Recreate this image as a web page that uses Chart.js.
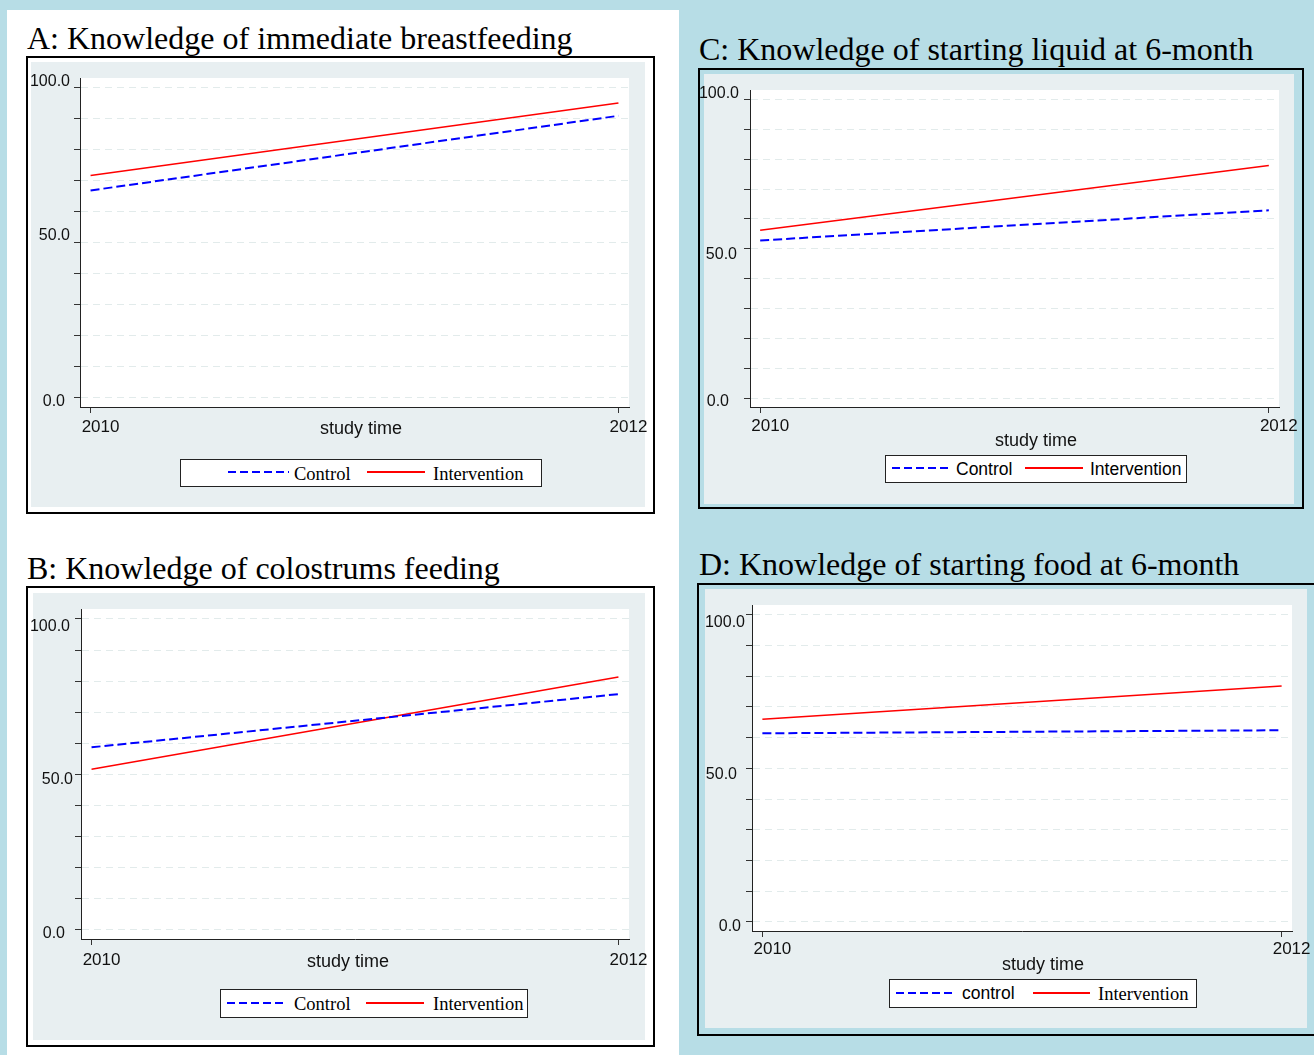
<!DOCTYPE html>
<html>
<head>
<meta charset="utf-8">
<script src="https://cdn.jsdelivr.net/npm/chart.js@4.4.0/dist/chart.umd.min.js"></script>
<style>
body{margin:0;width:1314px;height:1055px;background:#b7dde6;position:relative;overflow:hidden;font-family:"Liberation Sans",Arial,sans-serif}
#white{position:absolute;left:7px;top:10px;width:672px;height:1045px;background:#fff}
.title{position:absolute;font-family:"Liberation Serif","Times New Roman",serif;font-size:32px;line-height:32px;white-space:nowrap;color:#000}
.box{position:absolute;border:2px solid #000;box-sizing:border-box}
canvas{position:absolute}
.legend{position:absolute;background:#fff;border:1px solid #222;box-sizing:border-box}
.legend span{position:absolute;top:0;white-space:nowrap;color:#000}
.legend .ln{position:absolute;height:2px}
</style>
</head>
<body>
<div id="white"></div>
<script>
// ---- data ----
const years = [2010, 2012];
const xLabels = [2010, 2012];
const yLabels = [0, 50, 100];
const yGrid = [0, 10, 20, 30, 40, 50, 60, 70, 80, 90, 100];
const xTitle = 'study time';

const titles = [
  'A: Knowledge of immediate breastfeeding',
  'B: Knowledge of colostrums feeding',
  'C: Knowledge of starting liquid at 6-month',
  'D: Knowledge of starting food at 6-month'
];
const seriesNames = [
  ['Control', 'Intervention'],
  ['Control', 'Intervention'],
  ['Control', 'Intervention'],
  ['control', 'Intervention']
];
const controlA = [66.9, 91.0];
const interventionA = [71.7, 95.1];
const controlB = [58.7, 75.8];
const interventionB = [51.6, 81.3];
const controlC = [52.8, 62.9];
const interventionC = [56.2, 77.9];
const controlD = [61.4, 62.4];
const interventionD = [66.0, 76.8];

// ---- layout of the four panels (page pixels) ----
const SERIF = '"Liberation Serif","Times New Roman",serif';
const SANS = '"Liberation Sans",Arial,sans-serif';
const panels = [
  {control: controlA, interv: interventionA, tx: 27, tb: 49,
   box: [26, 56, 655, 514], gray: [31, 62, 645, 507], area: [80, 78, 629, 407],
   xPad: 4, titlePos: [361, 429], yOff: [[-15, 4], [-10, -7], [-10, -6]],
   leg: [180, 459, 542, 487], legItems: [227, 288, 294, 366, 424, 433], legFonts: [SERIF, SERIF]},
  {control: controlB, interv: interventionB, tx: 27, tb: 579,
   box: [26, 586, 655, 1047], gray: [33, 593, 645, 1040], area: [81, 609, 629, 939],
   xPad: 5, titlePos: [348, 962], yOff: [[-16, 4], [-8, 5], [-11, 8]],
   leg: [220, 989, 528, 1018], legItems: [226, 286, 294, 365, 423, 433], legFonts: [SERIF, SERIF]},
  {control: controlC, interv: interventionC, tx: 699, tb: 60,
   box: [698, 68, 1304, 509], gray: [704, 74, 1294, 504], area: [750, 90, 1279, 407],
   xPad: 3, titlePos: [1036, 441], yOff: [[-21, 4], [-13, 6], [-11, -6]],
   leg: [885, 455, 1187, 483], legItems: [891, 948, 956, 1024, 1082, 1090], legFonts: [SANS, SANS]},
  {control: controlD, interv: interventionD, tx: 699, tb: 575,
   box: [697, 583, 1322, 1036], gray: [705, 589, 1307, 1028], area: [752, 605, 1292, 931],
   xPad: 2, titlePos: [1043, 965], yOff: [[-11, 5], [-15, 6], [-7, 8]],
   leg: [889, 979, 1197, 1008], legItems: [895, 953, 962, 1032, 1089, 1098], legFonts: [SANS, SERIF]}
];

// grey panel and white plot area behind the lines
const plotBg = {
  id: 'plotBg',
  beforeDraw(chart, args, opts) {
    const a = chart.chartArea, ctx = chart.ctx, g = opts.gray;
    ctx.save();
    ctx.fillStyle = '#e8eff1';
    ctx.fillRect(g[0], g[1], g[2], g[3]);
    ctx.fillStyle = '#fff';
    ctx.fillRect(a.left, a.top, a.right - a.left, a.bottom - a.top);
    ctx.restore();
  }
};

// y labels and x title, placed like the original
const extraText = {
  id: 'extraText',
  afterDraw(chart, args, opts) {
    const ctx = chart.ctx, ys = chart.scales.y, a = chart.chartArea;
    ctx.save();
    ctx.fillStyle = '#111';
    ctx.font = '16px ' + SANS;
    ctx.textAlign = 'right';
    ctx.textBaseline = 'middle';
    yLabels.forEach((v, i) => {
      const o = opts.yOff[i];
      ctx.fillText(v.toFixed(1), a.left + o[0], ys.getPixelForValue(v) + o[1]);
    });
    ctx.font = '18px ' + SANS;
    ctx.textAlign = 'center';
    ctx.fillText(xTitle, opts.titleX, opts.titleY);
    ctx.restore();
  }
};

function el(cls, css, parent) {
  const d = document.createElement('div');
  d.className = cls;
  Object.assign(d.style, css);
  (parent || document.body).appendChild(d);
  return d;
}

panels.forEach((p, k) => {
  // title
  const t = el('title', {left: p.tx + 'px', top: (p.tb - 27) + 'px'});
  t.textContent = titles[k];

  // outer frame
  el('box', {left: p.box[0] + 'px', top: p.box[1] + 'px',
             width: (p.box[2] - p.box[0]) + 'px', height: (p.box[3] - p.box[1]) + 'px'});

  // canvas fills the inside of the frame
  const c = [p.box[0] + 2, p.box[1] + 2, p.box[2] - 2, p.box[3] - 2];
  const g = p.gray, a = p.area;
  const cv = document.createElement('canvas');
  cv.width = c[2] - c[0];
  cv.height = c[3] - c[1];
  cv.style.left = c[0] + 'px';
  cv.style.top = c[1] + 'px';
  document.body.appendChild(cv);

  new Chart(cv, {
    type: 'line',
    data: {
      datasets: [
        {label: seriesNames[k][0], data: years.map((x, i) => ({x: x, y: p.control[i]})),
         borderColor: '#0000ff', borderWidth: 2, borderDash: [9, 4], pointRadius: 0, tension: 0},
        {label: seriesNames[k][1], data: years.map((x, i) => ({x: x, y: p.interv[i]})),
         borderColor: '#ff0000', borderWidth: 1.5, pointRadius: 0, tension: 0}
      ]
    },
    options: {
      responsive: false,
      animation: false,
      layout: {padding: {left: g[0] - c[0], bottom: c[3] - g[3], top: a[1] - c[1], right: c[2] - a[2]}},
      plugins: {
        legend: {display: false},
        tooltip: {enabled: false},
        plotBg: {gray: [g[0] - c[0], g[1] - c[1], g[2] - g[0], g[3] - g[1]]},
        extraText: {yOff: p.yOff, titleX: p.titlePos[0] - c[0], titleY: p.titlePos[1] - c[1]}
      },
      scales: {
        x: {
          type: 'linear', min: 2009.96, max: 2012.04,
          afterBuildTicks: s => { s.ticks = xLabels.map(v => ({value: v})); },
          afterFit: s => { s.height = g[3] - a[3]; s.paddingLeft = 0; s.paddingRight = 0; },
          grid: {drawOnChartArea: false, drawTicks: true, tickLength: 6, tickColor: '#333', tickBorderDash: []},
          border: {color: '#222', width: 1},
          ticks: {color: '#111', font: {size: 17, family: SANS}, padding: p.xPad, labelOffset: 10,
                  maxRotation: 0, minRotation: 0, autoSkip: false, callback: v => String(v)}
        },
        y: {
          min: -3, max: 103.2,
          afterBuildTicks: s => { s.ticks = yGrid.map(v => ({value: v})); },
          afterFit: s => { s.width = a[0] - g[0]; s.paddingTop = 0; s.paddingBottom = 0; },
          grid: {color: '#e2ebeb', lineWidth: 1, drawTicks: true, tickLength: 6, tickColor: '#333', tickBorderDash: []},
          border: {color: '#222', width: 1, dash: [7, 5]},
          ticks: {display: false}
        }
      }
    },
    plugins: [plotBg, extraText]
  });

  // legend box built from the series names
  const L = p.leg, it = p.legItems;
  const lg = el('legend', {left: L[0] + 'px', top: L[1] + 'px',
                           width: (L[2] - L[0]) + 'px', height: (L[3] - L[1]) + 'px'});
  const h = L[3] - L[1];
  const midY = Math.round(h / 2) - 3;
  el('ln', {left: (it[0] - L[0]) + 'px', top: midY + 'px', width: (it[1] - it[0]) + 'px',
            background: 'repeating-linear-gradient(to right,#0000ff 0 8px,transparent 8px 12px)'}, lg);
  el('ln', {left: (it[3] - L[0]) + 'px', top: midY + 'px', width: (it[4] - it[3]) + 'px',
            background: '#ff0000'}, lg);
  [[it[2], 0], [it[5], 1]].forEach(([x, j]) => {
    const s = document.createElement('span');
    s.textContent = seriesNames[k][j];
    const serif = p.legFonts[j] === SERIF;
    s.style.left = (x - L[0] - 1) + 'px';
    s.style.fontFamily = p.legFonts[j];
    s.style.fontSize = serif ? '18.5px' : '17.5px';
    s.style.lineHeight = (h - 2) + 'px';
    s.style.top = (serif ? 1 : 0) + 'px';
    lg.appendChild(s);
  });
});
</script>
</body>
</html>
